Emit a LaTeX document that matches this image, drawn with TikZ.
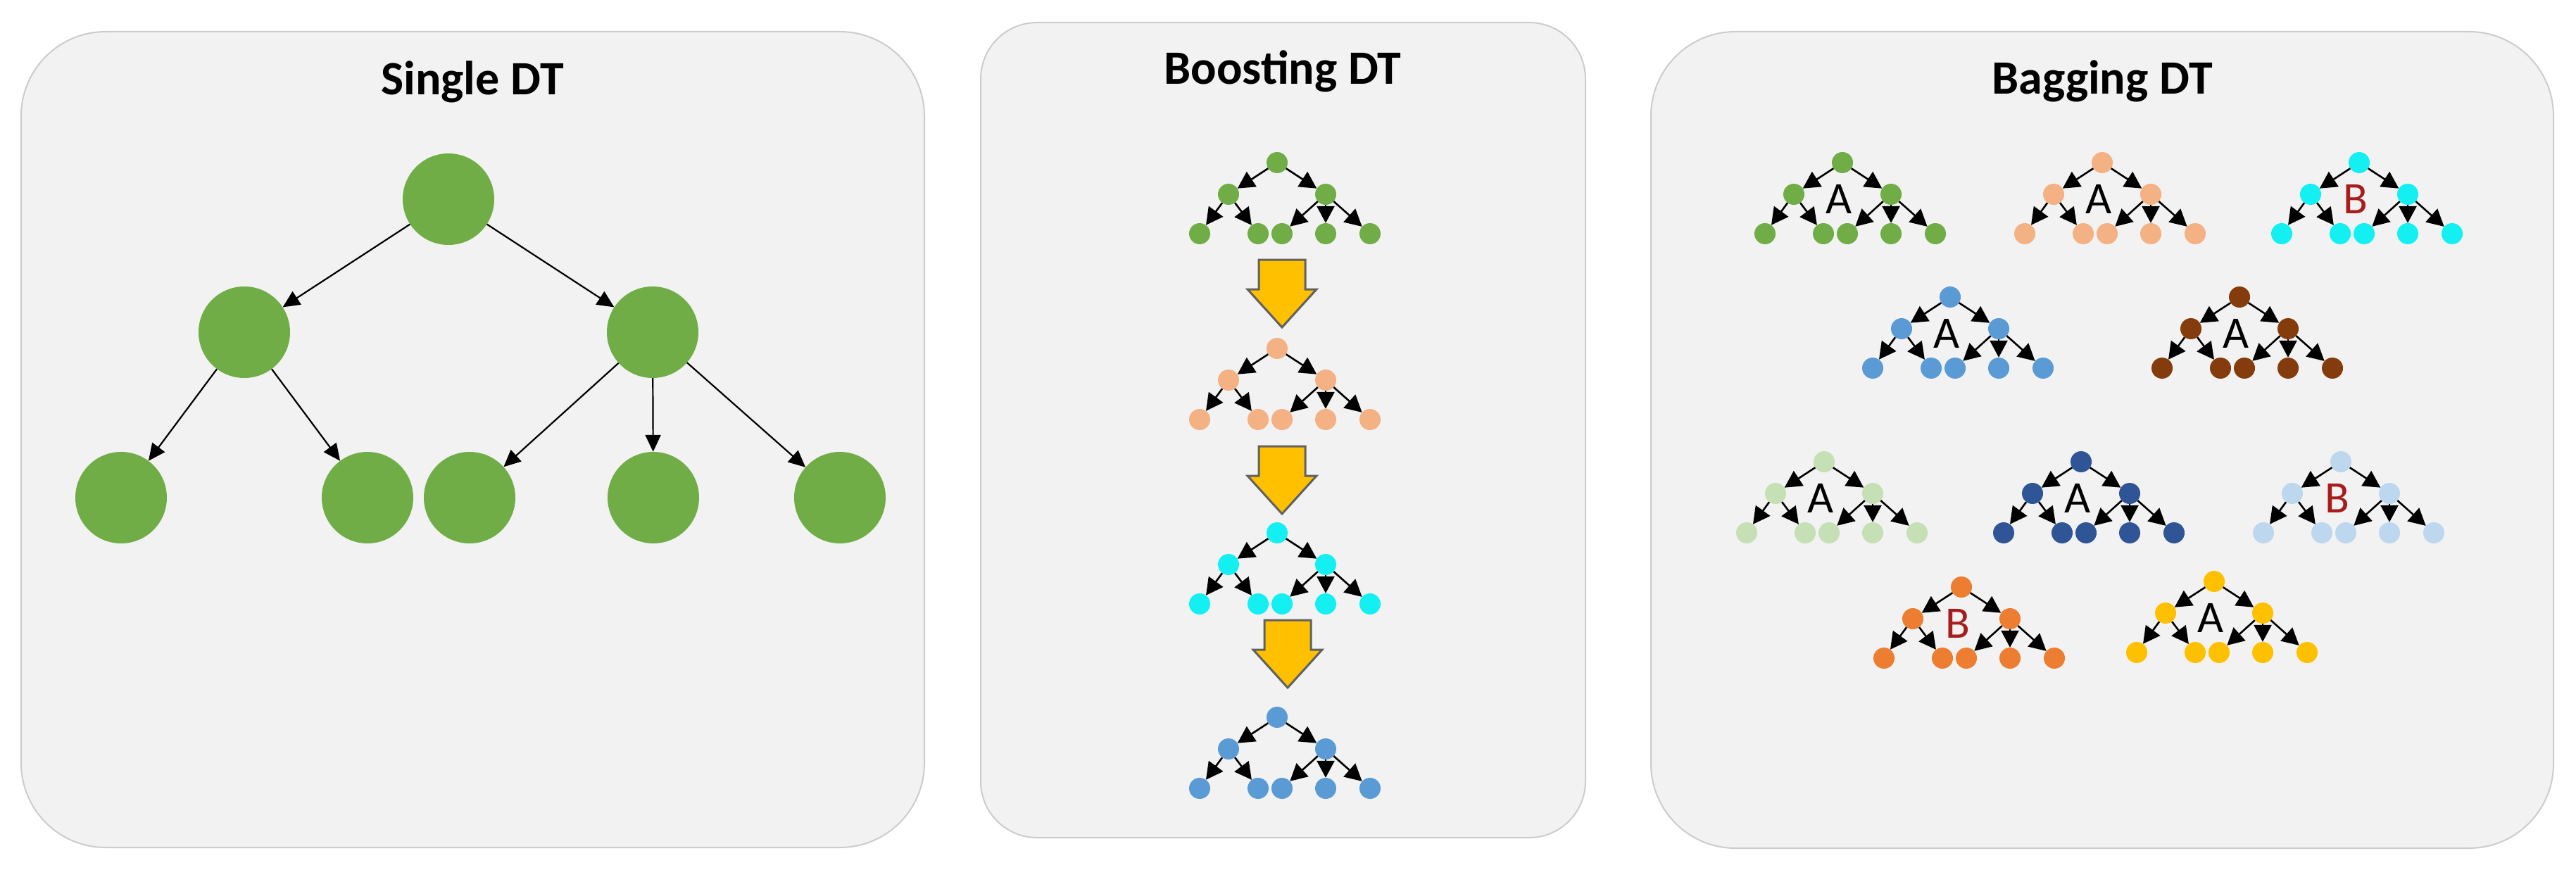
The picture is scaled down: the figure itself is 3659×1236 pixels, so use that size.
\documentclass[tikz,border=0pt]{standalone}
\usepackage{fontspec}
\setmainfont{Carlito}
\usetikzlibrary{arrows.meta}
\usepackage{xcolor}
\definecolor{dtgreen}{HTML}{70AD47}
\definecolor{dtpeach}{HTML}{F4B183}
\definecolor{dtcyan}{HTML}{14F0F2}
\definecolor{dtblue}{HTML}{5B9BD5}
\definecolor{dtbrown}{HTML}{843C0C}
\definecolor{dtlgreen}{HTML}{C5E0B4}
\definecolor{dtdblue}{HTML}{2F5597}
\definecolor{dtlblue}{HTML}{BDD7EE}
\definecolor{dtorange}{HTML}{ED7D31}
\definecolor{dtyellow}{HTML}{FFC000}
\definecolor{dtred}{HTML}{A81C1C}

\begin{document}
\begin{tikzpicture}[x=1pt,y=-1pt]
	\tikzset{panel/.style = {draw=black!20, line width=2pt, fill=black!5, rounded corners=120pt},
			title/.style = {font=\fontsize{68}{68}\selectfont\bfseries, anchor=base, inner sep=0pt},
			letter/.style = {font=\fontsize{64}{64}\selectfont, inner sep=0pt}}
	\tikzset{bignode/.style = {shape=circle, fill=dtgreen, minimum size=130pt, inner sep=0pt}}
	\tikzset{bigedge/.style = {line width=2.2pt, -{Triangle[length=24pt,width=22pt]}}}
	\tikzset{dot/.style = {shape=circle, fill=#1, minimum size=30pt, inner sep=0pt}}
	\tikzset{smalledge/.style = {line width=2.6pt, -{Triangle[length=24pt,width=25pt]}}}
	\tikzset{boostarrow/.style = {fill=dtyellow, draw=black!62, line width=3pt, line join=miter}}
	\tikzset{pics/minitree/.style = {code={
		\node[dot=#1] (-r) at (0,0) {};
		\node[dot=#1] (-a) at (-69,45) {};
		\node[dot=#1] (-b) at (69,45) {};
		\node[dot=#1] (-c) at (-110,101) {};
		\node[dot=#1] (-d) at (-27,101) {};
		\node[dot=#1] (-e) at (7,101) {};
		\node[dot=#1] (-f) at (69,101) {};
		\node[dot=#1] (-g) at (132,101) {};
		\draw[smalledge] (-r) -- (-a);
		\draw[smalledge] (-r) -- (-b);
		\draw[smalledge] (-a) -- (-c);
		\draw[smalledge] (-a) -- (-d);
		\draw[smalledge] (-b) -- (-e);
		\draw[smalledge] (-b) -- (-f);
		\draw[smalledge] (-b) -- (-g);
	}}}
	\tikzset{pics/downarrow/.style = {code={
		\draw[boostarrow] (-33,0) -- (33,0) -- (33,42) -- (49,42) -- (0,96)
			-- (-49,42) -- (-33,42) -- cycle;
	}}}
	\useasboundingbox (0,0) rectangle (3659,1236);
	% panels
	\draw[panel] (30,45) rectangle (1313,1204);
	\draw[panel, rounded corners=80pt] (1393,32) rectangle (2252,1190);
	\draw[panel] (2345,45) rectangle (3627,1205);
	\node[title] (single) at (671,135) {Single DT};
	\node[title] (boost) at (1822,120) {Boosting DT};
	\node[title] (bag) at (2986,134) {Bagging DT};
	% single tree
	\node[bignode] (root) at (637,283) {};
	\node[bignode] (l) at (347,472) {};
	\node[bignode] (r) at (927,472) {};
	\node[bignode] (ll) at (172,707) {};
	\node[bignode] (lr) at (522,707) {};
	\node[bignode] (rl) at (667,707) {};
	\node[bignode] (rm) at (928,707) {};
	\node[bignode] (rr) at (1193,707) {};
	\draw[bigedge] (root) -- (l);
	\draw[bigedge] (root) -- (r);
	\draw[bigedge] (l) -- (ll);
	\draw[bigedge] (l) -- (lr);
	\draw[bigedge] (r) -- (rl);
	\draw[bigedge] (r) -- (rm);
	\draw[bigedge] (r) -- (rr);
	% boosting
	\pic (bo1) at (1814,231) {minitree=dtgreen};
	\pic (bo2) at (1814,495) {minitree=dtpeach};
	\pic (bo3) at (1814,757) {minitree=dtcyan};
	\pic (bo4) at (1814,1019) {minitree=dtblue};
	\pic (ar1) at (1821,369) {downarrow};
	\pic (ar2) at (1821,634) {downarrow};
	\pic (ar3) at (1829,881) {downarrow};
	% bagging
	\pic (ba1) at (2617,231) {minitree=dtgreen};
	\pic (ba2) at (2986,231) {minitree=dtpeach};
	\pic (ba3) at (3351,231) {minitree=dtcyan};
	\pic (ba4) at (2770,422) {minitree=dtblue};
	\pic (ba5) at (3181,422) {minitree=dtbrown};
	\pic (ba6) at (2591,656) {minitree=dtlgreen};
	\pic (ba7) at (2956,656) {minitree=dtdblue};
	\pic (ba8) at (3325,656) {minitree=dtlblue};
	\pic (ba9) at (2786,834) {minitree=dtorange};
	\pic (ba10) at (3145,826) {minitree=dtyellow};
	\node[letter] (ba1-t) at ([shift={(-5,52)}]ba1-r.center) {A};
	\node[letter] (ba2-t) at ([shift={(-5,52)}]ba2-r.center) {A};
	\node[letter, text=dtred] (ba3-t) at ([shift={(-5,52)}]ba3-r.center) {B};
	\node[letter] (ba4-t) at ([shift={(-5,52)}]ba4-r.center) {A};
	\node[letter] (ba5-t) at ([shift={(-5,52)}]ba5-r.center) {A};
	\node[letter] (ba6-t) at ([shift={(-5,52)}]ba6-r.center) {A};
	\node[letter] (ba7-t) at ([shift={(-5,52)}]ba7-r.center) {A};
	\node[letter, text=dtred] (ba8-t) at ([shift={(-5,52)}]ba8-r.center) {B};
	\node[letter, text=dtred] (ba9-t) at ([shift={(-5,52)}]ba9-r.center) {B};
	\node[letter] (ba10-t) at ([shift={(-5,52)}]ba10-r.center) {A};
\end{tikzpicture}
\end{document}
